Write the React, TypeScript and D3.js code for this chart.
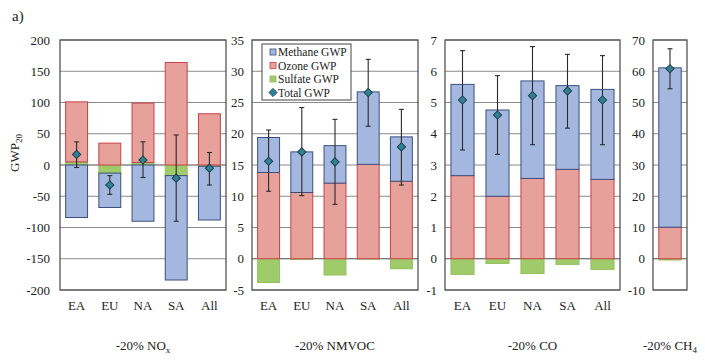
import * as React from "react";
import * as d3 from "d3";

// regions and per-panel values (GWP20)
const regions = ["EA", "EU", "NA", "SA", "All"];
const ch4Regions = ["All"];

const noxSulfate = [5, -13, 4, -17, -2];
const noxOzone = [96, 35, 95, 164, 82];
const noxMethane = [-84, -55, -90, -167, -86];
const noxTotal = [17, -32, 8, -21, -5];
const noxLow = [-4, -47, -20, -90, -32];
const noxHigh = [37, -17, 37, 48, 20];
const noxTicks = [-200, -150, -100, -50, 0, 50, 100, 150, 200];

const vocSulfate = [-3.8, -0.1, -2.6, -0.05, -1.6];
const vocOzone = [13.8, 10.6, 12.1, 15.1, 12.4];
const vocMethane = [5.6, 6.5, 6.0, 11.6, 7.1];
const vocTotal = [15.6, 17.1, 15.5, 26.6, 17.9];
const vocLow = [10.8, 10.1, 8.7, 21.2, 11.8];
const vocHigh = [20.6, 24.2, 22.3, 31.9, 23.9];
const vocTicks = [-5, 0, 5, 10, 15, 20, 25, 30, 35];

const coSulfate = [-0.5, -0.15, -0.47, -0.18, -0.34];
const coOzone = [2.66, 2.0, 2.57, 2.86, 2.54];
const coMethane = [2.92, 2.76, 3.12, 2.68, 2.88];
const coTotal = [5.08, 4.6, 5.22, 5.37, 5.08];
const coLow = [3.48, 3.34, 3.65, 4.18, 3.65];
const coHigh = [6.66, 5.86, 6.79, 6.54, 6.5];
const coTicks = [-1, 0, 1, 2, 3, 4, 5, 6, 7];

const ch4Sulfate = [-0.4];
const ch4Ozone = [10.1];
const ch4Methane = [51.0];
const ch4Total = [60.8];
const ch4Low = [54.4];
const ch4High = [67.2];
const ch4Ticks = [-10, 0, 10, 20, 30, 40, 50, 60, 70];

const legendLabels = ["Methane GWP", "Ozone GWP", "Sulfate GWP", "Total GWP"];

const panels = [
    { cats: regions, sulfate: noxSulfate, ozone: noxOzone, methane: noxMethane, total: noxTotal, low: noxLow, high: noxHigh, ticks: noxTicks, title: "-20% NO", sub: "x" },
    { cats: regions, sulfate: vocSulfate, ozone: vocOzone, methane: vocMethane, total: vocTotal, low: vocLow, high: vocHigh, ticks: vocTicks, title: "-20% NMVOC", sub: "" },
    { cats: regions, sulfate: coSulfate, ozone: coOzone, methane: coMethane, total: coTotal, low: coLow, high: coHigh, ticks: coTicks, title: "-20% CO", sub: "" },
    { cats: ch4Regions, sulfate: ch4Sulfate, ozone: ch4Ozone, methane: ch4Methane, total: ch4Total, low: ch4Low, high: ch4High, ticks: ch4Ticks, title: "-20% CH", sub: "4" },
];

// layout (pixels)
const W = 705, H = 362;
const top = 40, bottom = 290;
const boxes = [[60, 226], [252, 418], [445, 620], [653, 687]];
const labelGap = [10, 8, 8, 8];
const showCats = [true, true, true, false];

const colors: Record<string, { fill: string; stroke: string }> = {
    methane: { fill: "#a4b8df", stroke: "#3d4f7f" },
    ozone: { fill: "#e6a19b", stroke: "#cc3f46" },
    sulfate: { fill: "#9fcb6b", stroke: "#92bf5e" },
};
const diamondFill = "#2f8196";
const diamondStroke = "#1d3f4d";
const font = "Liberation Serif";

const diamond = d3.symbol().type(d3.symbolSquare).size(34)()!;

const Panel: React.FC<{ p: typeof panels[0]; i: number }> = ({ p, i }) => {
    const [x0, x1] = boxes[i];
    const ext = d3.extent(p.ticks) as [number, number];
    const y = d3.scaleLinear().domain(ext).range([bottom, top]);
    const x = d3.scaleBand().domain(p.cats).range([x0, x1]).paddingInner(0.34).paddingOuter(0.17);
    const bw = x.bandwidth();

    const rows = p.cats.map((c, k) => ({ cat: c, sulfate: p.sulfate[k], ozone: p.ozone[k], methane: p.methane[k] }));
    const series = d3.stack<any>().keys(["sulfate", "ozone", "methane"]).offset(d3.stackOffsetDiverging)(rows);

    return (
        <g>
            {p.ticks.map(t => (
                <line key={"g" + t} x1={x0} x2={x1} y1={y(t)} y2={y(t)}
                    stroke={t === 0 ? "#4d4d4d" : "#8a8a8a"} strokeWidth={1} />
            ))}
            {p.ticks.map(t => (
                <text key={"t" + t} x={x0 - labelGap[i]} y={y(t)} dy="0.35em" textAnchor="end"
                    fontSize={13} fill="#222">{t}</text>
            ))}
            {series.map(s => s.map((d, k) => {
                const a = y(d[0]), b = y(d[1]);
                if (Math.abs(a - b) < 0.01) return null;
                const c = colors[s.key];
                return (
                    <rect key={s.key + k} x={x(p.cats[k])} width={bw}
                        y={Math.min(a, b)} height={Math.abs(a - b)}
                        fill={c.fill} stroke={c.stroke} strokeWidth={1} />
                );
            }))}
            <rect x={x0} y={top} width={x1 - x0} height={bottom - top} fill="none" stroke="#555" strokeWidth={1.3} />
            {p.cats.map((c, k) => {
                const cx = x(c)! + bw / 2;
                return (
                    <g key={"e" + c}>
                        <line x1={cx} x2={cx} y1={y(p.low[k])} y2={y(p.high[k])} stroke="#2a2a2a" strokeWidth={1.1} />
                        <line x1={cx - 2.5} x2={cx + 2.5} y1={y(p.low[k])} y2={y(p.low[k])} stroke="#2a2a2a" strokeWidth={1.1} />
                        <line x1={cx - 2.5} x2={cx + 2.5} y1={y(p.high[k])} y2={y(p.high[k])} stroke="#2a2a2a" strokeWidth={1.1} />
                        <path d={diamond} transform={`translate(${cx},${y(p.total[k])}) rotate(45)`}
                            fill={diamondFill} stroke={diamondStroke} strokeWidth={1} />
                    </g>
                );
            })}
            {showCats[i] && p.cats.map(c => (
                <text key={"c" + c} x={x(c)! + bw / 2} y={310} textAnchor="middle" fontSize={13} fill="#222">{c}</text>
            ))}
            <text x={(x0 + x1) / 2} y={350} textAnchor="middle" fontSize={13} fill="#222">
                {p.title}
                {p.sub && <tspan fontSize={9} dy={3}>{p.sub}</tspan>}
            </text>
        </g>
    );
};

const Legend: React.FC = () => {
    const lx = 262, ly = 44;
    const rowY = [52, 65.5, 79, 92.5];
    const keys = ["methane", "ozone", "sulfate"];
    return (
        <g>
            <rect x={lx} y={ly} width={89} height={56} fill="#fff" stroke="#444" strokeWidth={1} />
            {legendLabels.map((l, k) => (
                <g key={l}>
                    {k < 3 ? (
                        <rect x={lx + 8} y={rowY[k] - 3} width={6} height={6}
                            fill={colors[keys[k]].fill} stroke={colors[keys[k]].stroke} strokeWidth={0.8} />
                    ) : (
                        <path d={diamond} transform={`translate(${lx + 11},${rowY[k]}) rotate(45)`}
                            fill={diamondFill} stroke={diamondStroke} strokeWidth={0.8} />
                    )}
                    <text x={lx + 16} y={rowY[k]} dy="0.35em" fontSize={11.5} fill="#222">{l}</text>
                </g>
            ))}
        </g>
    );
};

const App: React.FC = () => (
    <svg width={W} height={H} fontFamily={font}
        style={{ position: "absolute", left: 0, top: 0, background: "#fff" }}>
        <text x={12} y={21} fontSize={15} fill="#222">a)</text>
        <text transform="translate(19,153) rotate(-90)" textAnchor="middle" fontSize={13} fill="#222">
            GWP<tspan fontSize={9} dy={3}>20</tspan>
        </text>
        {panels.map((p, i) => <Panel key={i} p={p} i={i} />)}
        <Legend />
    </svg>
);

export default App;
